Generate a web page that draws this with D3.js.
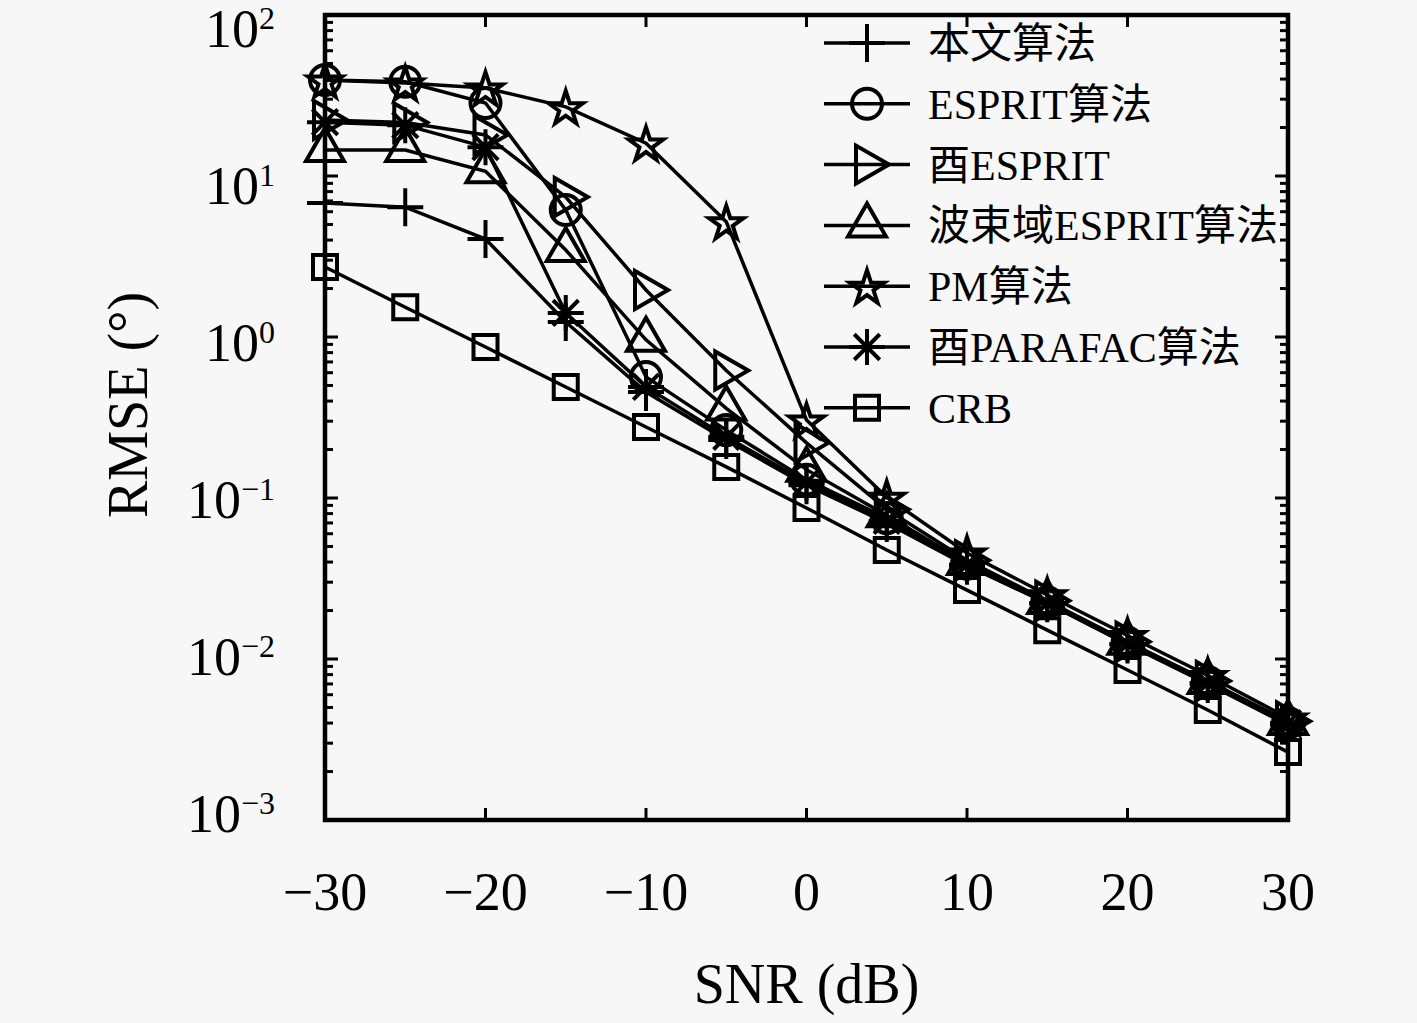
<!DOCTYPE html>
<html>
<head>
<meta charset="utf-8">
<script src="https://cdn.jsdelivr.net/npm/d3@7"></script>
<style>
  body { margin: 0; background: #f7f7f7; }
  svg { display: block; }
  text { font-family: "Liberation Serif", "Times New Roman", "Noto Sans CJK SC", serif; fill: #000; }
</style>
</head>
<body>
<div class="vis"></div>
<script>
// SNR values (dB)
const snr = [-30, -25, -20, -15, -10, -5, 0, 5, 10, 15, 20, 25, 30];

// RMSE (deg) per algorithm
const proposed = [6.8, 6.4, 4.06, 1.24, 0.455, 0.229, 0.12, 0.07, 0.038, 0.0222, 0.0123, 0.0070, 0.0039];
const esprit = [39.5, 38.5, 28.4, 6.15, 0.565, 0.264, 0.13, 0.075, 0.039, 0.0225, 0.0126, 0.0072, 0.0040];
const uEsprit = [22.3, 21.5, 18, 7.4, 1.96, 0.62, 0.22, 0.085, 0.041, 0.023, 0.0128, 0.0073, 0.0041];
const beamEsprit = [14.5, 14.5, 10.7, 3.47, 0.96, 0.36, 0.15, 0.078, 0.0395, 0.0226, 0.0126, 0.0072, 0.0040];
const pm = [39.4, 37.8, 35.2, 26.9, 16, 5.2, 0.305, 0.101, 0.0455, 0.025, 0.014, 0.0079, 0.0043];
const uParafac = [21.6, 20.7, 15.1, 1.41, 0.49, 0.24, 0.125, 0.072, 0.0385, 0.0222, 0.0124, 0.0071, 0.0040];
const crb = [2.72, 1.53, 0.867, 0.489, 0.276, 0.156, 0.0867, 0.0475, 0.0268, 0.0151, 0.00855, 0.00482, 0.00264];

const seriesNames = ["本文算法", "ESPRIT算法", "酉ESPRIT", "波束域ESPRIT算法", "PM算法", "酉PARAFAC算法", "CRB"];
const seriesValues = [proposed, esprit, uEsprit, beamEsprit, pm, uParafac, crb];
const markerTypes = ["plus", "circle", "triRight", "triUp", "star", "asterisk", "square"];

const xTicks = [-30, -20, -10, 0, 10, 20, 30];
const yExponents = [2, 1, 0, -1, -2, -3];

const W = 1417, H = 1023;
const margin = { top: 15, right: 129, bottom: 203, left: 325 };
const width = W - margin.left - margin.right;
const height = H - margin.top - margin.bottom;

const svg = d3.select(".vis").append("svg").attr("width", W).attr("height", H);
const g = svg.append("g").attr("transform", "translate(" + margin.left + "," + margin.top + ")");

let x = d3.scaleLinear().domain([-30, 30]).range([0, width]);
let y = d3.scaleLog().domain([1e-3, 1e2]).range([height, 0]);
// tick labels in the source sit a little off the ticks, spread slightly tighter
let yLab = d3.scaleLinear().domain([2, -3]).range([32, 817]);

// marker shapes
const markerPath = (type) => {
  switch (type) {
    case "plus": return "M-18,0H18M0,-19V19";
    case "circle": { const p = d3.path(); p.arc(0, 0, 15, 0, 2 * Math.PI); return p.toString(); }
    case "triRight": return "M22,0L-11,-19L-11,19Z";
    case "triUp": return "M0,-22L19,11L-19,11Z";
    case "square": return "M-12,-12H12V12H-12Z";
    case "asterisk": {
      let s = "";
      const r = 18;
      for (let k = 0; k < 4; k++) {
        const a = k * Math.PI / 4;
        s += "M" + (-r * Math.cos(a)) + "," + (-r * Math.sin(a)) + "L" + (r * Math.cos(a)) + "," + (r * Math.sin(a));
      }
      return s;
    }
    case "star": {
      const R = 18, r = R * 0.382;
      const pts = [];
      for (let k = 0; k < 10; k++) {
        const a = -Math.PI / 2 + k * Math.PI / 5;
        const rr = k % 2 === 0 ? R : r;
        pts.push([rr * Math.cos(a), rr * Math.sin(a) + 2]);
      }
      return "M" + pts.map((p) => p.join(",")).join("L") + "Z";
    }
  }
  return "";
};

// minor / major ticks on left & right
const minorVals = [];
for (let e = -3; e < 2; e++) for (let m = 2; m <= 9; m++) minorVals.push(m * Math.pow(10, e));
const majorVals = yExponents.map((e) => Math.pow(10, e));

[0, width].forEach((xx, side) => {
  const dir = side === 0 ? 1 : -1;
  g.selectAll(null).data(minorVals).enter().append("line")
    .attr("x1", xx).attr("x2", xx + dir * 8)
    .attr("y1", (d) => y(d)).attr("y2", (d) => y(d))
    .attr("stroke", "#000").attr("stroke-width", 3);
  g.selectAll(null).data(majorVals).enter().append("line")
    .attr("x1", xx).attr("x2", xx + dir * 13)
    .attr("y1", (d) => y(d)).attr("y2", (d) => y(d))
    .attr("stroke", "#000").attr("stroke-width", 3);
});

// x ticks on bottom & top
[height, 0].forEach((yy, side) => {
  const dir = side === 0 ? -1 : 1;
  g.selectAll(null).data(xTicks).enter().append("line")
    .attr("x1", (d) => x(d)).attr("x2", (d) => x(d))
    .attr("y1", yy).attr("y2", yy + dir * 12)
    .attr("stroke", "#000").attr("stroke-width", 3);
});

// axes box
g.append("rect")
  .attr("x", 0).attr("y", 0).attr("width", width).attr("height", height)
  .attr("fill", "none").attr("stroke", "#000").attr("stroke-width", 4.5);

// x tick labels
g.selectAll(".xlab").data(xTicks).enter().append("text")
  .attr("class", "xlab")
  .attr("x", (d) => x(d)).attr("y", height + 90)
  .attr("text-anchor", "middle")
  .attr("font-size", 54)
  .text((d) => (d < 0 ? "\u2212" + Math.abs(d) : d));

// y tick labels 10^e
let ylab = g.selectAll(".ylab").data(yExponents).enter().append("text")
  .attr("class", "ylab")
  .attr("x", -50)
  .attr("y", (d) => yLab(d))
  .attr("text-anchor", "end")
  .attr("font-size", 54);
ylab.append("tspan").text("10");
ylab.append("tspan").attr("dy", -18).attr("font-size", 32)
  .text((d) => (d < 0 ? "\u2212" + Math.abs(d) : d));

// axis titles
g.append("text")
  .attr("x", width / 2).attr("y", height + 183)
  .attr("text-anchor", "middle").attr("font-size", 56)
  .text("SNR (dB)");
g.append("text")
  .attr("transform", "rotate(-90)")
  .attr("x", -390).attr("y", -178)
  .attr("text-anchor", "middle").attr("font-size", 56)
  .text("RMSE (\u00b0)");

// series
const line = d3.line().x((d, i) => x(snr[i])).y((d) => y(d));
const plot = g.append("g");
seriesValues.forEach((vals, si) => {
  plot.append("path")
    .attr("d", line(vals))
    .attr("fill", "none").attr("stroke", "#000").attr("stroke-width", 3.5);
  plot.selectAll(null).data(vals).enter().append("path")
    .attr("transform", (d, i) => "translate(" + x(snr[i]) + "," + y(d) + ")")
    .attr("d", markerPath(markerTypes[si]))
    .attr("fill", "none").attr("stroke", "#000").attr("stroke-width", 4)
    .attr("stroke-linejoin", "miter");
});

// legend
const legend = g.append("g").attr("transform", "translate(" + (824 - margin.left) + "," + (43 - margin.top) + ")");
let rows = legend.selectAll(".row").data(seriesNames).enter().append("g")
  .attr("class", "row")
  .attr("transform", (d, i) => "translate(0," + i * 60.8 + ")");
rows.append("line").attr("x1", 0).attr("x2", 86).attr("y1", 0).attr("y2", 0)
  .attr("stroke", "#000").attr("stroke-width", 3.5);
rows.append("path")
  .attr("transform", "translate(43,0)")
  .attr("d", (d, i) => markerPath(markerTypes[i]))
  .attr("fill", "none").attr("stroke", "#000").attr("stroke-width", 4);
rows.append("text")
  .attr("x", 104).attr("y", 15)
  .attr("font-size", 42)
  .text((d) => d);
</script>
</body>
</html>
